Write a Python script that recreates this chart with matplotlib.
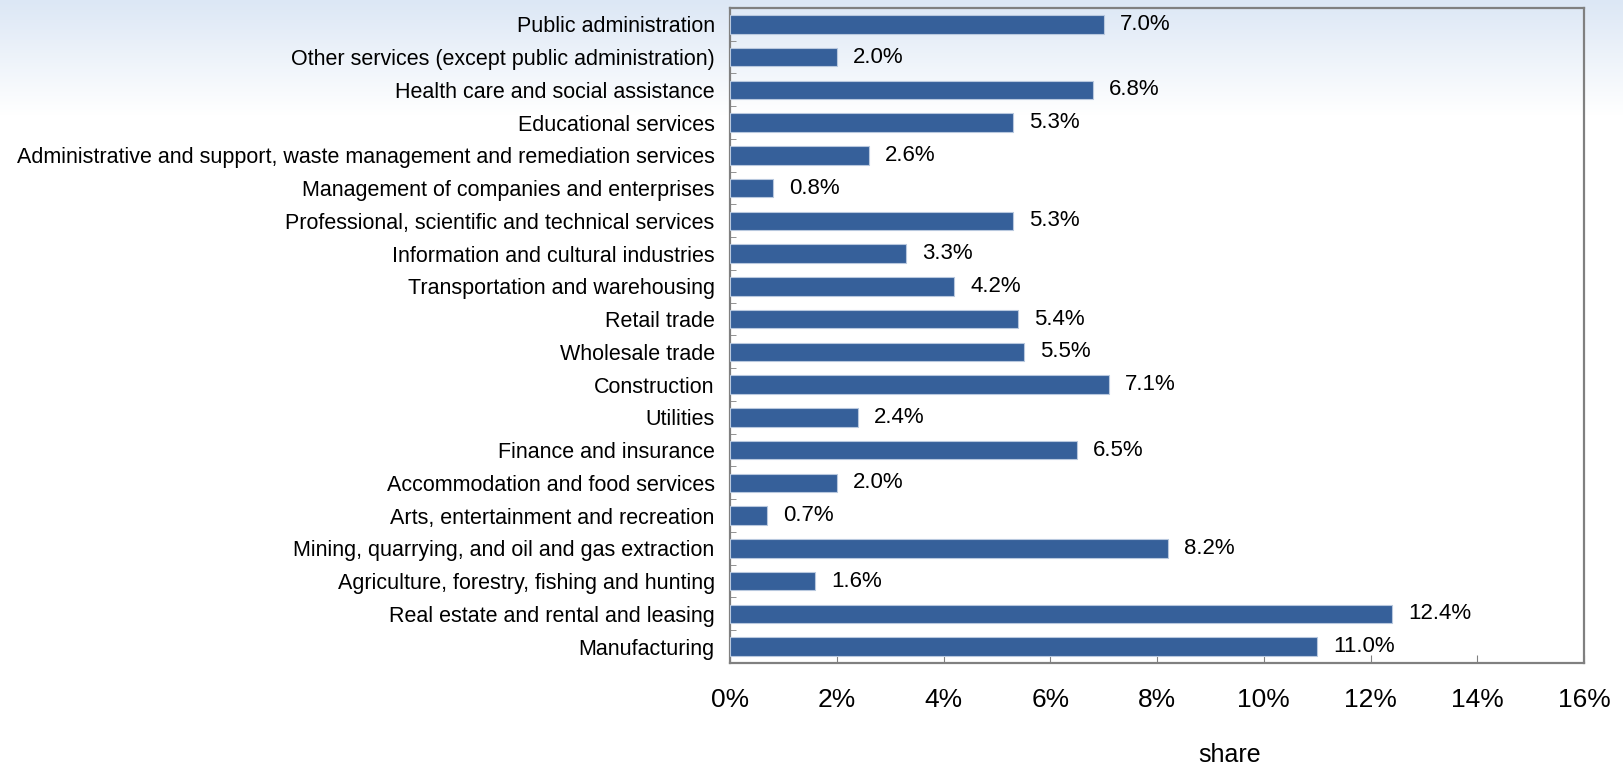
import numpy as np
import matplotlib
matplotlib.use("Agg")
import matplotlib.pyplot as plt
from matplotlib.colors import LinearSegmentedColormap

categories = [
    "Public administration",
    "Other services (except public administration)",
    "Health care and social assistance",
    "Educational services",
    "Administrative and support, waste management and remediation services",
    "Management of companies and enterprises",
    "Professional, scientific and technical services",
    "Information and cultural industries",
    "Transportation and warehousing",
    "Retail trade",
    "Wholesale trade",
    "Construction",
    "Utilities",
    "Finance and insurance",
    "Accommodation and food services",
    "Arts, entertainment and recreation",
    "Mining, quarrying, and oil and gas extraction",
    "Agriculture, forestry, fishing and hunting",
    "Real estate and rental and leasing",
    "Manufacturing",
]
shares = [7.0, 2.0, 6.8, 5.3, 2.6, 0.8, 5.3, 3.3, 4.2, 5.4,
          5.5, 7.1, 2.4, 6.5, 2.0, 0.7, 8.2, 1.6, 12.4, 11.0]
xticks = [0, 2, 4, 6, 8, 10, 12, 14, 16]
xticklabels = ["0%", "2%", "4%", "6%", "8%", "10%", "12%", "14%", "16%"]

plt.rcParams['font.family'] = ['Liberation Sans', 'DejaVu Sans']

fig = plt.figure(figsize=(16.23, 7.66), dpi=100)

# background gradient
bg = fig.add_axes([0, 0, 1, 1], zorder=-10)
bg.set_axis_off()
cmap = LinearSegmentedColormap.from_list("bg", ["#dce7f5", "#ffffff"])
grad = np.linspace(0, 1, 766).reshape(-1, 1)
grad = np.clip(grad / 0.15, 0, 1)
bg.imshow(grad, aspect='auto', cmap=cmap, extent=[0, 1, 0, 1], origin='upper')

ax = fig.add_axes([0.4498, 0.1345, 0.976 - 0.4498, 0.9896 - 0.1345])
ax.patch.set_alpha(0)

n = len(categories)
y = np.arange(n)[::-1]
ax.barh(y, shares, height=0.57, color="#36609a", edgecolor="#b8c8de", linewidth=0.8, zorder=3)
for yi, v in zip(y, shares):
    ax.text(v + 0.3, yi, f"{v:.1f}%", va='center', ha='left', fontsize=16, color='#000000')

ax.set_xlim(0, 16)
ax.set_ylim(-0.5, n - 0.5)
ax.set_yticks(y)
ax.set_yticklabels(categories, fontsize=15.5)
ax.set_xticks(xticks)
ax.set_xticklabels(xticklabels, fontsize=19)
ax.tick_params(axis='x', direction='in', length=6, color='#808080', pad=18)
ax.tick_params(axis='y', which='major', length=0, pad=11)
ax.set_yticks(np.arange(n - 1) + 0.5, minor=True)
ax.tick_params(axis='y', which='minor', direction='in', length=4, color='#808080')

for s in ax.spines.values():
    s.set_color('#808080')
    s.set_linewidth(1.6)

fig.text(1230 / 1623, 1 - 755 / 766, "share", ha='center', va='center', fontsize=18)

fig.savefig("out.png", dpi=100)
